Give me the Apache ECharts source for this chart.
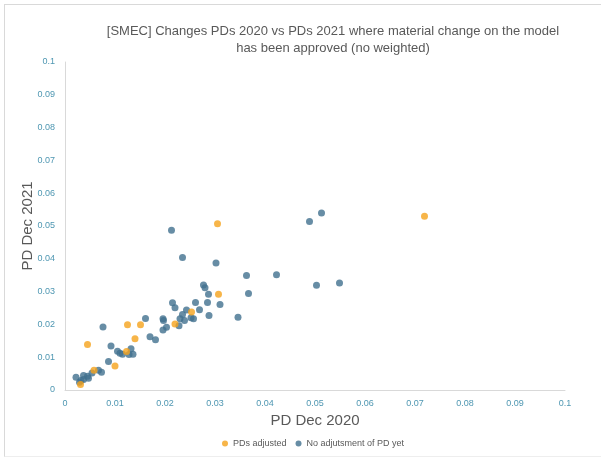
<!DOCTYPE html>
<html>
<head>
<meta charset="utf-8">
<script src="https://cdn.jsdelivr.net/npm/echarts@6/dist/echarts.min.js"></script>
<style>
body { margin: 0; background: #fff; }
#chart { width: 601px; height: 457px; }
.frame { position: absolute; left: 4px; top: 4px; width: 600px; height: 451px; border: 1px solid #d9d9d9; border-bottom-color: #eeeeee; pointer-events: none; }
</style>
</head>
<body>
<div id="chart"></div>
<div class="frame"></div>
<script>
// PD Dec 2020 (x) / PD Dec 2021 (y)
var adjustedX = [0.0045, 0.0125, 0.0151, 0.0140, 0.0100, 0.0123, 0.0058, 0.0031, 0.0220, 0.0253, 0.0305, 0.0307, 0.0719];
var adjustedY = [0.0139, 0.0199, 0.0199, 0.0156, 0.0073, 0.0117, 0.0060, 0.0017, 0.0201, 0.0238, 0.0507, 0.0292, 0.0530];

var notAdjX = [0.0213, 0.0235, 0.0277, 0.0280, 0.0287, 0.0215, 0.0220, 0.0243, 0.0261, 0.0285,
               0.0269, 0.0288, 0.0235, 0.0230, 0.0239, 0.0252, 0.0257, 0.0228, 0.0196, 0.0197,
               0.0161, 0.0076, 0.0203, 0.0196, 0.0170, 0.0181, 0.0092, 0.0105, 0.0110, 0.0115,
               0.0132, 0.0128, 0.0136, 0.0087, 0.0067, 0.0073, 0.0054, 0.0037, 0.0045, 0.0047,
               0.0022, 0.0032, 0.0037, 0.0029, 0.0489, 0.0513, 0.0302, 0.0363, 0.0423, 0.0503,
               0.0549, 0.0367, 0.0310, 0.0346];
var notAdjY = [0.0487, 0.0404, 0.0320, 0.0312, 0.0292, 0.0266, 0.0251, 0.0244, 0.0267, 0.0267,
               0.0245, 0.0227, 0.0230, 0.0217, 0.0212, 0.0220, 0.0217, 0.0196, 0.0217, 0.0212,
               0.0218, 0.0192, 0.0191, 0.0183, 0.0162, 0.0153, 0.0134, 0.0118, 0.0112, 0.0109,
               0.0126, 0.0108, 0.0109, 0.0087, 0.0060, 0.0054, 0.0052, 0.0044, 0.0042, 0.0036,
               0.0039, 0.0029, 0.0032, 0.0024, 0.0514, 0.0540, 0.0387, 0.0349, 0.0351, 0.0319,
               0.0326, 0.0294, 0.0261, 0.0222];

var seriesNames = ['PDs adjusted', 'No adjutsment of PD yet'];
var titleText = '[SMEC] Changes PDs 2020 vs PDs 2021 where material change on the model\nhas been approved (no weighted)';

function pairs(xs, ys) {
    var out = [];
    for (var i = 0; i < xs.length; i++) out.push([xs[i], ys[i]]);
    return out;
}

var chart = echarts.init(document.getElementById('chart'));
var font = 'Liberation Sans';
var tickColor = '#4f97b2';

chart.setOption({
    animation: false,
    textStyle: { fontFamily: font },
    title: {
        text: titleText,
        left: 328, top: 18,
        textAlign: 'center',
        textStyle: { fontSize: 13, fontWeight: 'normal', color: '#595959', lineHeight: 17, fontFamily: font }
    },
    legend: {
        data: seriesNames,
        top: 434, left: 217,
        itemWidth: 6, itemHeight: 6, itemGap: 9,
        icon: 'circle',
        textStyle: { fontSize: 9, color: '#595959', fontFamily: font }
    },
    grid: { left: 65, right: 36, top: 62, bottom: 67 },
    xAxis: {
        type: 'value', min: 0, max: 0.1, interval: 0.01,
        name: 'PD Dec 2020', nameLocation: 'middle', nameGap: 23, nameMoveOverlap: false,
        nameTextStyle: { fontSize: 15, color: '#595959' },
        axisLine: { show: true, lineStyle: { color: '#d9d9d9' } },
        axisTick: { show: false },
        splitLine: { show: false },
        axisLabel: { color: tickColor, fontSize: 9, margin: 9 }
    },
    yAxis: {
        type: 'value', min: 0, max: 0.1, interval: 0.01,
        name: 'PD Dec 2021', nameLocation: 'middle', nameGap: 30, nameMoveOverlap: false,
        nameTextStyle: { fontSize: 15, color: '#595959' },
        axisLine: { show: true, lineStyle: { color: '#d9d9d9' } },
        axisTick: { show: false },
        splitLine: { show: false },
        axisLabel: { color: tickColor, fontSize: 9, margin: 10 }
    },
    series: [
        {
            name: seriesNames[1], type: 'scatter', symbolSize: 7,
            itemStyle: { color: '#41708f' },
            data: pairs(notAdjX, notAdjY)
        },
        {
            name: seriesNames[0], type: 'scatter', symbolSize: 7,
            itemStyle: { color: '#f5a31c' },
            data: pairs(adjustedX, adjustedY)
        }
    ]
});
</script>
</body>
</html>
